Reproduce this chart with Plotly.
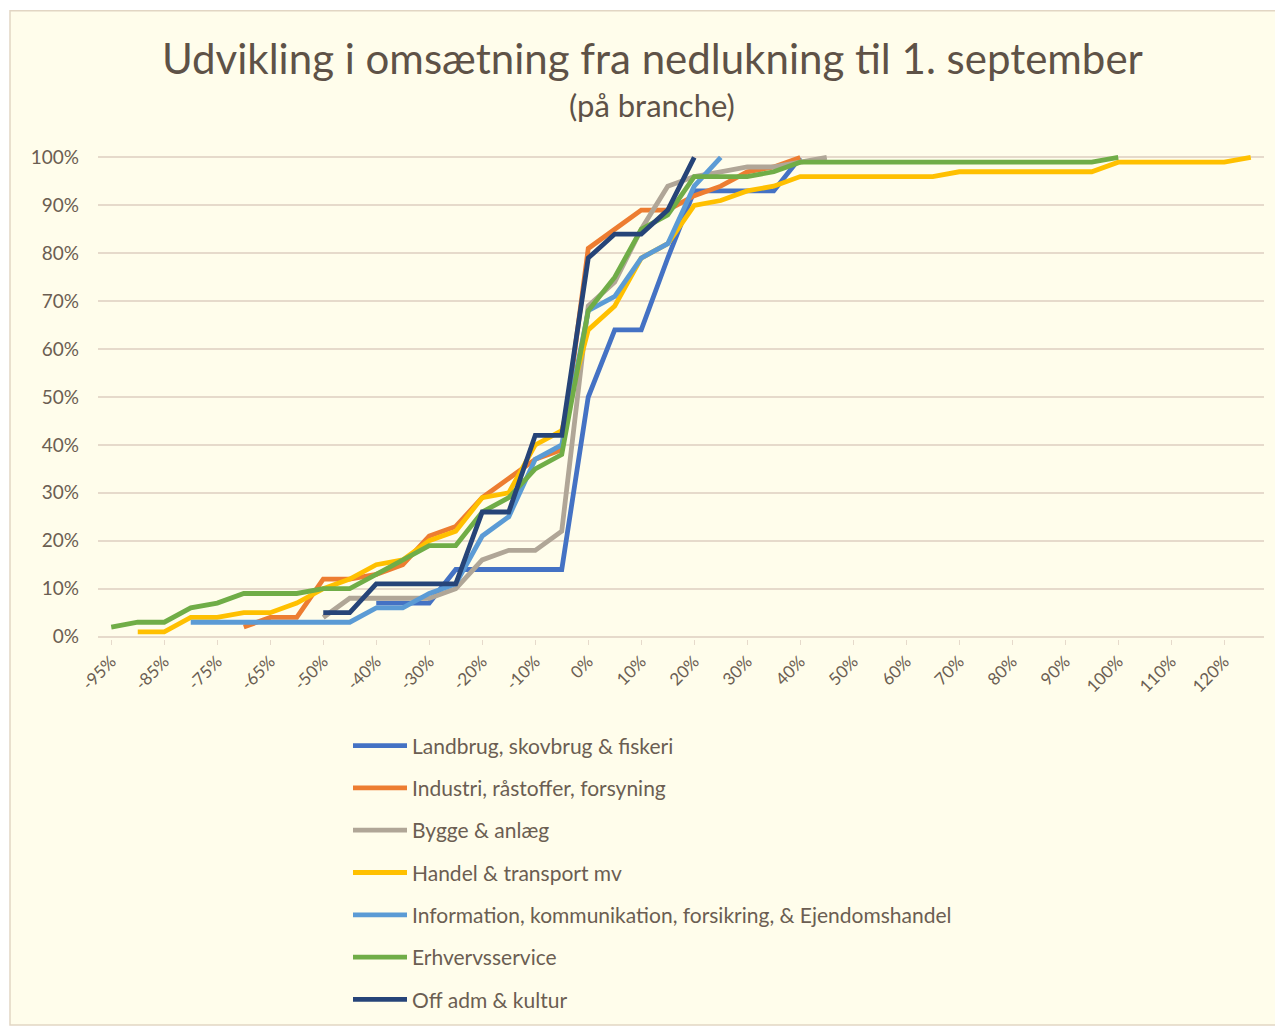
import plotly.graph_objects as go

categories = ["-95%", "-90%", "-85%", "-80%", "-75%", "-70%", "-65%", "-60%", "-50%", "-45%",
              "-40%", "-35%", "-30%", "-25%", "-20%", "-15%", "-10%", "-5%", "0%", "5%",
              "10%", "15%", "20%", "25%", "30%", "35%", "40%", "45%", "50%", "55%",
              "60%", "65%", "70%", "75%", "80%", "85%", "90%", "95%", "100%", "105%",
              "110%", "115%", "120%", "125%"]

N = None
landbrug = [N, N, N, N, N, N, N, N, N, N,
            7, 7, 7, 14, 14, 14, 14, 14, 50, 64,
            64, 79, 93, 93, 93, 93, 100]
industri = [N, N, N, N, N, 2, 4, 4, 12, 12,
            13, 15, 21, 23, 29, 33, 37, 39, 81, 85,
            89, 89, 92, 94, 97, 98, 100]
bygge = [N, N, N, N, N, N, N, N, 4, 8,
         8, 8, 8, 10, 16, 18, 18, 22, 69, 74,
         85, 94, 96, 97, 98, 98, 99, 100]
handel = [N, 1, 1, 4, 4, 5, 5, 7, 10, 12,
          15, 16, 20, 22, 29, 30, 40, 43, 64, 69,
          79, 82, 90, 91, 93, 94, 96, 96, 96, 96,
          96, 96, 97, 97, 97, 97, 97, 97, 99, 99,
          99, 99, 99, 100]
information = [N, N, N, 3, 3, 3, 3, 3, 3, 3,
               6, 6, 9, 11, 21, 25, 37, 40, 68, 71,
               79, 82, 94, 100]
erhverv = [2, 3, 3, 6, 7, 9, 9, 9, 10, 10,
           13, 16, 19, 19, 26, 29, 35, 38, 68, 75,
           85, 88, 96, 96, 96, 97, 99, 99, 99, 99,
           99, 99, 99, 99, 99, 99, 99, 99, 100]
offadm = [N, N, N, N, N, N, N, N, 5, 5,
          11, 11, 11, 11, 26, 26, 42, 42, 79, 84,
          84, 89, 100]

series_names = ["Landbrug, skovbrug & fiskeri", "Industri, råstoffer, forsyning", "Bygge & anlæg",
                "Handel & transport mv", "Information, kommunikation, forsikring, & Ejendomshandel",
                "Erhvervsservice", "Off adm & kultur"]
series_values = [landbrug, industri, bygge, handel, information, erhverv, offadm]
colors = ["#4472C4", "#ED7D31", "#B0A697", "#FFC000", "#5B9BD5", "#70AD47", "#264478"]

tick_labels = categories[::2]

text_col = "#6B5E52"
grid_col = "#E6DACB"
bg = "#FFFDEB"
FONT = "Lato"

OFF = 8  # page body margin
W, H = 1283 - OFF, 1028 - OFF
L, R = 98 - OFF, 19
T = 154.6 - OFF
B = H - (639.4 - OFF)
pw = W - L - R
ph = H - T - B

def px2x(px):
    return (px - OFF - L) / pw

def py2y(py):
    return (H - B - (py - OFF)) / ph

fig = go.Figure()
for name, vals, col in zip(series_names, series_values, colors):
    fig.add_trace(go.Scatter(
        x=categories[:len(vals)], y=vals, name=name, mode="lines",
        line=dict(color=col, width=4.8), legendgroup=name,
        connectgaps=False, hoverinfo="skip"))

fig.update_layout(
    width=W, height=H,
    margin=dict(l=L, r=R, t=T, b=B, autoexpand=False),
    paper_bgcolor="white", plot_bgcolor="rgba(0,0,0,0)",
    font=dict(family=FONT, color=text_col),
    showlegend=True,
    legend=dict(x=px2x(348), y=py2y(726), xanchor="left", yanchor="top",
                orientation="v", bgcolor="rgba(0,0,0,0)",
                font=dict(size=21, color=text_col, family=FONT),
                tracegroupgap=12, itemwidth=54),
    xaxis=dict(type="category", categoryorder="array", categoryarray=categories,
               range=[-0.5, len(categories) - 0.5],
               tickmode="array", tickvals=tick_labels, ticktext=tick_labels,
               tickangle=-45, tickfont=dict(size=17, color=text_col, family=FONT),
               showgrid=False, zeroline=False, showline=False,
               ticks="outside", ticklen=5, tickcolor=grid_col, tickwidth=1),
    yaxis=dict(range=[-0.5, 100.5], tickmode="array",
               tickvals=[0, 10, 20, 30, 40, 50, 60, 70, 80, 90, 100],
               ticktext=["0%", "10%", "20%", "30%", "40%", "50%", "60%", "70%", "80%", "90%", "100%"],
               tickfont=dict(size=19, color=text_col, family=FONT),
               showgrid=True, gridcolor=grid_col, gridwidth=1.5,
               zeroline=False, showline=False, ticklabelstandoff=18),
    shapes=[dict(type="rect", xref="paper", yref="paper",
                 x0=px2x(10), x1=px2x(1281), y0=py2y(1026), y1=py2y(10),
                 fillcolor=bg, line=dict(color="#E2D6C4", width=1.5), layer="below")],
    annotations=[
        dict(text="Udvikling i omsætning fra nedlukning til 1. september", xref="paper", yref="paper",
             x=px2x(652), y=py2y(57), xanchor="center", yanchor="middle", showarrow=False,
             font=dict(size=42, color="#5E5247", family=FONT)),
        dict(text="(på branche)", xref="paper", yref="paper",
             x=px2x(652), y=py2y(105), xanchor="center", yanchor="middle", showarrow=False,
             font=dict(size=31, color="#5E5247", family=FONT)),
    ],
)

fig.write_html("out.html")
